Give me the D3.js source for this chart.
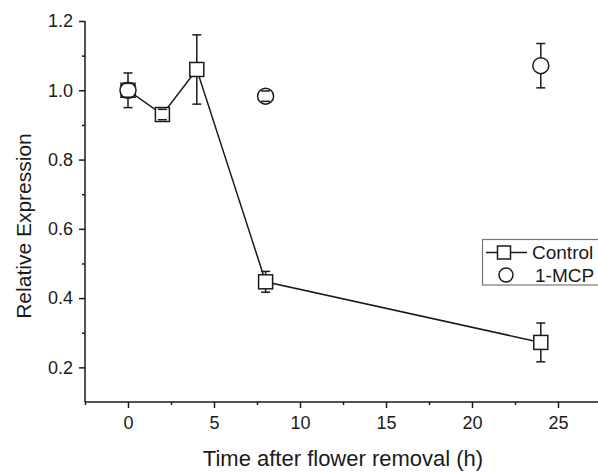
<!DOCTYPE html>
<html>
<head>
<meta charset="utf-8">
<script src="https://cdn.jsdelivr.net/npm/d3@7"></script>
<style>
  body { margin: 0; background: #fff; }
  svg { display: block; font-family: 'Liberation Sans', Arial, sans-serif; }
</style>
</head>
<body>
<div id="container"></div>
<script>
// data
const controlTime = [0, 2, 4, 8, 24];
const controlMean = [1.0, 0.93, 1.06, 0.447, 0.272];
const controlErr = [0.05, 0.015, 0.1, 0.03, 0.056];

const mcpTime = [0, 8, 24];
const mcpMean = [1.0, 0.983, 1.071];
const mcpErr = [0.02, 0.015, 0.064];

const xTicks = [0, 5, 10, 15, 20, 25];
const xMinor = [-2.5, 2.5, 7.5, 12.5, 17.5, 22.5];
const yTicks = [0.2, 0.4, 0.6, 0.8, 1.0, 1.2];
const yMinor = [0.3, 0.5, 0.7, 0.9, 1.1];

const width = 598;
const height = 472;
const ink = '#1a1a1a';

const svg = d3.select('#container').append('svg')
  .attr('width', width)
  .attr('height', height);

const x = d3.scaleLinear().domain([-2.5, 27.5]).range([85, 601]);
const y = d3.scaleLinear().domain([0.1, 1.2]).range([402, 21]);

const control = controlTime.map((t, i) => ({ t, v: controlMean[i], e: controlErr[i] }));
const mcp = mcpTime.map((t, i) => ({ t, v: mcpMean[i], e: mcpErr[i] }));

// --- axes ---
const xAxis = svg.append('g')
  .attr('transform', `translate(0,${y(0.1)})`)
  .call(d3.axisBottom(x).tickValues(xTicks).tickSize(6).tickPadding(8).tickFormat(d3.format('d')));
svg.append('g')
  .attr('transform', `translate(0,${y(0.1)})`)
  .call(d3.axisBottom(x).tickValues(xMinor).tickSize(3).tickFormat(''))
  .call((g) => g.select('.domain').remove());

const yAxis = svg.append('g')
  .attr('transform', `translate(${x(-2.5)},0)`)
  .call(d3.axisLeft(y).tickValues(yTicks).tickSize(6).tickPadding(6).tickFormat(d3.format('.1f')));
svg.append('g')
  .attr('transform', `translate(${x(-2.5)},0)`)
  .call(d3.axisLeft(y).tickValues(yMinor).tickSize(3).tickFormat(''))
  .call((g) => g.select('.domain').remove());

// plain axis lines without the outer end ticks
xAxis.select('.domain').attr('d', `M${x(-2.5)},0H${x(27.5)}`);
yAxis.select('.domain').attr('d', `M0,${y(0.1)}V${y(1.2)}`);
svg.selectAll('.domain').attr('stroke', ink).attr('stroke-width', 1.5);

svg.selectAll('.tick line').attr('stroke', ink).attr('stroke-width', 1.5);
svg.selectAll('.tick text')
  .attr('fill', ink)
  .style('font-size', '18px')
  .style('font-family', "'Liberation Sans', Arial, sans-serif");

// axis titles
svg.append('text')
  .attr('x', 343)
  .attr('y', 466)
  .attr('text-anchor', 'middle')
  .attr('fill', ink)
  .style('font-size', '22px')
  .text('Time after flower removal (h)');

svg.append('text')
  .attr('transform', 'translate(31,226) rotate(-90)')
  .attr('text-anchor', 'middle')
  .attr('fill', ink)
  .style('font-size', '21px')
  .text('Relative Expression');

// --- error bars: caps plus stems that stop at the marker edge ---
function errorBars(data, half) {
  const g = svg.append('g');
  const capW = 4.5;
  data.forEach((d) => {
    const cx = x(d.t);
    const cy = y(d.v);
    const top = y(d.v + d.e);
    const bot = y(d.v - d.e);
    if (cy - top > half) {
      g.append('line').attr('x1', cx).attr('x2', cx).attr('y1', top).attr('y2', cy - half);
      g.append('line').attr('x1', cx).attr('x2', cx).attr('y1', cy + half).attr('y2', bot);
    }
    g.append('line').attr('x1', cx - capW).attr('x2', cx + capW).attr('y1', top).attr('y2', top);
    g.append('line').attr('x1', cx - capW).attr('x2', cx + capW).attr('y1', bot).attr('y2', bot);
  });
  g.selectAll('line').attr('stroke', ink).attr('stroke-width', 1.5);
}

// control line
svg.append('path')
  .datum(control)
  .attr('fill', 'none')
  .attr('stroke', ink)
  .attr('stroke-width', 1.5)
  .attr('d', d3.line().x((d) => x(d.t)).y((d) => y(d.v)));

const sq = 14;
svg.append('g')
  .selectAll('rect')
  .data(control)
  .join('rect')
  .attr('x', (d) => x(d.t) - sq / 2)
  .attr('y', (d) => y(d.v) - sq / 2)
  .attr('width', sq)
  .attr('height', sq)
  .attr('fill', '#fff')
  .attr('stroke', ink)
  .attr('stroke-width', 1.5);
errorBars(control, sq / 2);

const r = 8;
svg.append('g')
  .selectAll('circle')
  .data(mcp)
  .join('circle')
  .attr('cx', (d) => x(d.t))
  .attr('cy', (d) => y(d.v))
  .attr('r', r)
  .attr('fill', '#fff')
  .attr('stroke', ink)
  .attr('stroke-width', 1.5);
errorBars(mcp, r);

// --- legend ---
const legend = svg.append('g');
legend.append('rect')
  .attr('x', 482.5)
  .attr('y', 239.5)
  .attr('width', 130)
  .attr('height', 45.5)
  .attr('fill', '#fff')
  .attr('stroke', '#777')
  .attr('stroke-width', 1.2);

legend.append('line')
  .attr('x1', 486).attr('x2', 527)
  .attr('y1', 252.5).attr('y2', 252.5)
  .attr('stroke', ink).attr('stroke-width', 1.5);
legend.append('rect')
  .attr('x', 497.5).attr('y', 246)
  .attr('width', 13).attr('height', 13)
  .attr('fill', '#fff').attr('stroke', ink).attr('stroke-width', 1.5);
legend.append('text')
  .attr('x', 532).attr('y', 259)
  .attr('fill', ink).style('font-size', '19px')
  .text('Control');

legend.append('circle')
  .attr('cx', 506).attr('cy', 275)
  .attr('r', 7)
  .attr('fill', 'none').attr('stroke', ink).attr('stroke-width', 1.5);
legend.append('text')
  .attr('x', 535).attr('y', 282)
  .attr('fill', ink).style('font-size', '19px')
  .text('1-MCP');
</script>
</body>
</html>
